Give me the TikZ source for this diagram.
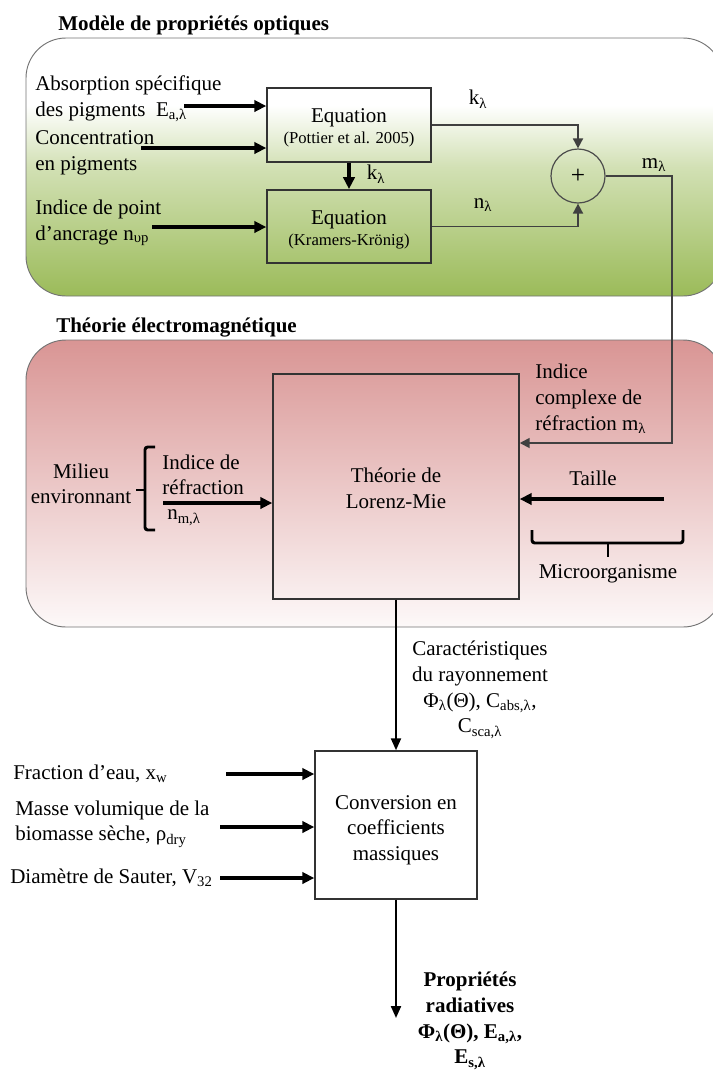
\documentclass[tikz,border=0pt]{standalone}
\usepackage{fontspec}
\setmainfont{Liberation Serif}
\usetikzlibrary{arrows.meta,calc}
\definecolor{gr}{HTML}{9BBB59}
\definecolor{rd}{HTML}{D99594}
\pgfdeclareverticalshading{greenpanel}{100bp}{color(0bp)=(gr); color(25bp)=(gr); color(50bp)=(gr!45!white); color(62bp)=(white); color(75bp)=(white); color(100bp)=(white)}
\pgfdeclareverticalshading{redpanel}{100bp}{color(0bp)=(rd!6!white); color(25bp)=(rd!6!white); color(75bp)=(rd); color(100bp)=(rd)}
\tikzset{
  panel/.style={rounded corners=30pt, draw=black!55, line width=0.7pt},
  blk/.style={draw=black!80, line width=1.1pt, inner sep=0pt},
  txt/.style={font=\fontsize{15.75}{19.2}\selectfont, inner sep=0pt},
  ttl/.style={font=\fontsize{15.75}{19.2}\selectfont\bfseries, inner sep=0pt, anchor=base west},
  thickarrow/.style={line width=2.4pt, -{Triangle[length=9pt,width=8.5pt]}},
  medarrow/.style={line width=1.6pt, -{Triangle[length=9pt,width=7.5pt]}},
  thinarrow/.style={draw=black!75, line width=1.3pt, -{Triangle[length=7.5pt,width=7.5pt]}},
  bracel/.style={line width=2.2pt, rounded corners=2pt},
}
\newcommand{\smallfs}{\fontsize{12.5}{15}\selectfont}
\begin{document}
\begin{tikzpicture}[x=0.75pt,y=-0.75pt]
\useasboundingbox (0,0) rectangle (713,1072);
% panels
\shade[shading=greenpanel, rounded corners=30pt] (26,38) rectangle (723,296);
\draw[panel] (26,38) rectangle (723,296);
\shade[shading=redpanel, rounded corners=30pt] (26,340) rectangle (723,627);
\draw[panel] (26,340) rectangle (723,627);
\node[ttl] (t1) at (58,30) {Modèle de propriétés optiques};
\node[ttl] (t2) at (56,332) {Théorie électromagnétique};

% --- optical model
\node[blk, minimum width=123pt, minimum height=55.5pt] (eq1) at (349,125) {};
\node[txt, align=center] (eq1t) at (349,128) {Equation\\[-3pt]\smallfs (Pottier et al. 2005)};
\node[blk, minimum width=123pt, minimum height=55pt] (eq2) at (349,226.5) {};
\node[txt, align=center] (eq2t) at (349,230) {Equation\\[-3pt]\smallfs (Kramers-Krönig)};
\node[circle, draw=black!70, line width=0.9pt, minimum size=40.5pt, inner sep=0pt, font=\fontsize{19}{22}\selectfont] (sum) at (578,176) {+};

\node[txt, align=left, anchor=west] (in1) at (35,99) {Absorption spécifique\\des pigments~ E\textsubscript{a,λ}};
\node[txt, align=left, anchor=west] (in2) at (35,153) {Concentration\\en pigments};
\node[txt, align=left, anchor=west] (in3) at (35,223) {Indice de point\\d’ancrage n\textsubscript{υp}};
\coordinate (a1) at (184,106);
\coordinate (a2) at (141,148);
\coordinate (a3) at (152,227);
\draw[thickarrow] (a1) -- (a1 -| eq1.west);
\draw[thickarrow] (a2) -- (a2 -| eq1.west);
\draw[thickarrow] (a3) -- (a3 -| eq2.west);
\draw[thickarrow] (eq1.south) -- (eq2.north);
\node[txt] (lk2) at (376,174) {k\textsubscript{λ}};

\draw[thinarrow] (eq1.east) -| (sum.north);
\draw[thinarrow] (eq2.east) -| (sum.south);
\node[txt] (lk1) at (478,99) {k\textsubscript{λ}};
\node[txt] (ln) at (483,205) {n\textsubscript{λ}};
\node[txt] (lm) at (654,165) {m\textsubscript{λ}};

% --- electromagnetic theory
\node[blk, minimum width=184.5pt, minimum height=168.75pt] (mie) at (396,486.5) {};
\node[txt, align=center] (miet) at (396,488) {Théorie de\\Lorenz-Mie};
\coordinate (mc) at (672,443);
\draw[thinarrow] (sum.east) -| (mc) -- (mc -| mie.east);
\node[txt, align=left, anchor=west] (cx) at (535,399) {Indice\\complexe de\\réfraction m\textsubscript{λ}};
\node[txt] (taille) at (593,478) {Taille};
\coordinate (a5) at (664,499);
\draw[thickarrow] (a5) -- (a5 -| mie.east);
\draw[bracel] (532,530) -- (532,543) -- (683,543) -- (683,530);
\draw[line width=2.2pt] (608,543) -- (608,557);
\node[txt] (micro) at (608,574) {Microorganisme};

\node[txt, align=center] (milieu) at (81,484) {Milieu\\environnant};
\draw[bracel] (155,447) -- (145,447) -- (145,530) -- (155,530);
\draw[line width=2.2pt] (145,490) -- (136,490);
\node[txt, align=left, anchor=west] (ir) at (162,475) {Indice de\\réfraction};
\node[txt, anchor=west] (nm) at (167,518) {n\textsubscript{m,λ}};
\coordinate (a4) at (163,503);
\draw[thickarrow] (a4) -- (a4 -| mie.west);

% --- conversion
\node[txt, align=center] (carac) at (480,690) {Caractéristiques\\du rayonnement\\Φ\textsubscript{λ}(Θ), C\textsubscript{abs,λ},\\C\textsubscript{sca,λ}};
\node[blk, minimum width=121.5pt, minimum height=111pt] (conv) at (396,825) {};
\node[txt, align=center] (convt) at (396,830) {Conversion en\\coefficients\\massiques};
\draw[medarrow] (mie.south) -- (conv.north);

\node[txt, anchor=west] (f1) at (13,774) {Fraction d’eau, x\textsubscript{w}};
\node[txt, align=left, anchor=west] (f2) at (15,824) {Masse volumique de la\\biomasse sèche, ρ\textsubscript{dry}};
\node[txt, anchor=west] (f3) at (10,878) {Diamètre de Sauter, V\textsubscript{32}};
\coordinate (b1) at (226,774);
\coordinate (b2) at (220,827);
\coordinate (b3) at (220,878);
\draw[thickarrow] (b1) -- (b1 -| conv.west);
\draw[thickarrow] (b2) -- (b2 -| conv.west);
\draw[thickarrow] (b3) -- (b3 -| conv.west);

\coordinate (out) at (396,1018);
\draw[medarrow] (conv.south) -- (out);
\node[txt, align=center, font=\fontsize{15.75}{19.2}\selectfont\bfseries] (prop) at (470,1021) {Propriétés\\radiatives\\Φ\textsubscript{λ}(Θ), E\textsubscript{a,λ},\\E\textsubscript{s,λ}};
\end{tikzpicture}
\end{document}
